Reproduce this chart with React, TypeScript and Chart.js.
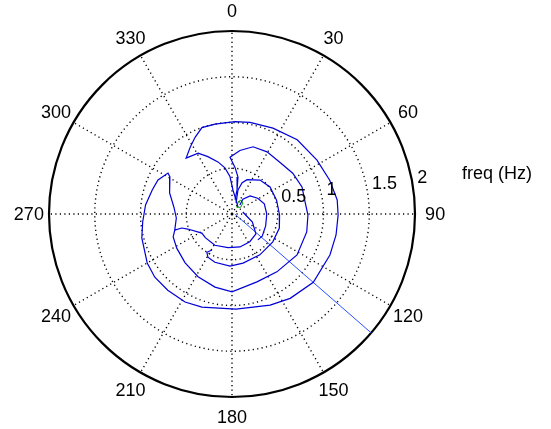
import React, { useEffect, useRef } from "react";
import { Chart, registerables } from "chart.js";

Chart.register(...registerables);

// Polar data: theta in degrees (0 at top, clockwise), r in Hz
const ringValues = [0.5, 1, 1.5, 2];
const ringLabels = ["0.5", "1", "1.5", "2"];
const angleTicks = [0, 30, 60, 90, 120, 150, 180, 210, 240, 270, 300, 330];
const radialTitle = "freq (Hz)";

const loop1Theta = [40.6, 16, 2.4, 356.9, 351.3, 344.9, 337.2, 330.9, 320.6, 327.9, 334.3, 340.8, 349.3, 1.9, 11.1, 25.5, 41.3, 57.6, 70.9, 82.4, 90.5, 101.4, 112.7, 130.0, 145.4, 157.3, 177.6, 197.9, 208.1, 220.1, 230.7, 240.0, 255.1, 264.9, 276.0, 286.7, 294.7, 302.6, 300.8, 288.7, 276.9, 265.9, 254.3, 254.4, 251.2, 237.7, 228.4, 208.7, 186.7, 166.4, 147.3, 129.8, 111.8, 79.7];
const loop1R = [0.10, 0.16, 0.26, 0.41, 0.51, 0.59, 0.68, 0.76, 0.79, 0.86, 0.93, 1.00, 1.00, 1.01, 1.02, 1.04, 1.08, 1.10, 1.13, 1.16, 1.16, 1.16, 1.16, 1.16, 1.12, 1.08, 1.04, 1.07, 1.09, 1.09, 1.09, 1.07, 1.02, 0.98, 0.95, 0.91, 0.89, 0.83, 0.79, 0.72, 0.64, 0.61, 0.65, 0.57, 0.51, 0.39, 0.39, 0.39, 0.37, 0.37, 0.36, 0.34, 0.24, 0.12];

const loop2Theta = [254.3, 248.7, 238.3, 223.8, 208.4, 193.1, 180, 159.8, 142.2, 122.2, 103.5, 90.8, 81.4, 68.9, 56.1, 42.7, 29.4, 17.4, 7.1, 358.0, 3.7, 9.2, 11.8, 12.1];
const loop2R = [0.65, 0.69, 0.71, 0.74, 0.78, 0.82, 0.85, 0.79, 0.80, 0.84, 0.84, 0.83, 0.81, 0.82, 0.80, 0.77, 0.78, 0.77, 0.70, 0.62, 0.51, 0.41, 0.27, 0.16];

const loop3Theta = [20.0, 14.0, 17.9, 23.8, 39.5, 54.6, 72.7, 91.2, 106.6, 124.3, 145.7, 167.3, 182.2, 199.5, 209.2, 213.3, 209.1];
const loop3R = [0.13, 0.27, 0.36, 0.41, 0.48, 0.51, 0.51, 0.52, 0.54, 0.54, 0.54, 0.55, 0.57, 0.56, 0.54, 0.50, 0.45];

const loop4Theta = [41.6, 36.3, 45, 58.4, 72.6, 90, 109.4, 126.3, 135];
const loop4R = [0.13, 0.20, 0.28, 0.33, 0.37, 0.38, 0.39, 0.41, 0.40];

const jumpTheta = [90, 130.5];
const jumpR = [0.03, 2.0];

const greenTheta = [35.5, 26.6, 32.7, 45, 52.1, 35.5];
const greenR = [0.09, 0.15, 0.18, 0.17, 0.12, 0.09];

const toXY = (th: number[], r: number[]) =>
  th.map((t, i) => {
    const a = (t * Math.PI) / 180;
    return { x: r[i] * Math.sin(a), y: r[i] * Math.cos(a) };
  });

const FONT = "18px 'Liberation Sans', Arial, sans-serif";

const polarGrid = {
  id: "polarGrid",
  beforeDatasetsDraw(chart: any) {
    const { ctx, scales } = chart;
    const xs = scales.x, ys = scales.y;
    const cx = xs.getPixelForValue(0);
    const cy = ys.getPixelForValue(0);
    const rMax = ringValues[ringValues.length - 1];
    const R = (v: number) => xs.getPixelForValue(v) - cx;
    ctx.save();
    ctx.strokeStyle = "#000";
    ctx.lineWidth = 1.4;
    ctx.setLineDash([1.2, 3.3]);
    for (let i = 0; i < ringValues.length - 1; i++) {
      ctx.beginPath();
      ctx.arc(cx, cy, R(ringValues[i]), 0, Math.PI * 2);
      ctx.stroke();
    }
    for (const t of angleTicks) {
      const a = (t * Math.PI) / 180;
      ctx.beginPath();
      ctx.moveTo(cx, cy);
      ctx.lineTo(cx + R(rMax) * Math.sin(a), cy - R(rMax) * Math.cos(a));
      ctx.stroke();
    }
    ctx.setLineDash([]);
    ctx.lineWidth = 2.2;
    ctx.strokeStyle = "#000";
    ctx.beginPath();
    ctx.arc(cx, cy, R(rMax), 0, Math.PI * 2);
    ctx.stroke();
    ctx.restore();
  },
  afterDatasetsDraw(chart: any) {
    const { ctx, scales } = chart;
    const xs = scales.x, ys = scales.y;
    const cx = xs.getPixelForValue(0);
    const cy = ys.getPixelForValue(0);
    const rMax = ringValues[ringValues.length - 1];
    const R = (v: number) => xs.getPixelForValue(v) - cx;
    ctx.save();
    ctx.fillStyle = "#000";
    ctx.font = FONT;
    ctx.textAlign = "center";
    ctx.textBaseline = "middle";
    for (const t of angleTicks) {
      const a = (t * Math.PI) / 180;
      const rr = R(rMax) * 1.11;
      ctx.fillText(String(t), cx + rr * Math.sin(a), cy - rr * Math.cos(a) + 1);
    }
    ctx.textAlign = "left";
    const la = (8 * Math.PI) / 180;
    ringValues.forEach((v, i) => {
      const rr = R(v);
      ctx.fillText(ringLabels[i], cx + rr * Math.cos(la) + 4, cy - rr * Math.sin(la) - 11);
    });
    ctx.fillText(radialTitle, cx + R(rMax) + 47, cy - 40);
    ctx.restore();
  },
};

export default function App() {
  const ref = useRef<HTMLCanvasElement | null>(null);
  useEffect(() => {
    if (!ref.current) return;
    const mk = (th: number[], r: number[], color: string, w: number) => ({
      data: toXY(th, r),
      showLine: true,
      borderColor: color,
      backgroundColor: color,
      borderWidth: w,
      pointRadius: 0,
      tension: 0,
    });
    const chart = new Chart(ref.current, {
      type: "scatter",
      data: {
        datasets: [
          mk(loop1Theta, loop1R, "#0000d8", 1.2),
          mk(loop2Theta, loop2R, "#0000d8", 1.2),
          mk(loop3Theta, loop3R, "#0000d8", 1.2),
          mk(loop4Theta, loop4R, "#0000d8", 1.2),
          mk(jumpTheta, jumpR, "#2a50ff", 1),
          mk(greenTheta, greenR, "#00a000", 1),
        ],
      },
      options: {
        animation: false,
        responsive: false,
        maintainAspectRatio: false,
        layout: { padding: { left: 49, right: 136, top: 31, bottom: 32 } },
        plugins: { legend: { display: false }, tooltip: { enabled: false } },
        scales: {
          x: { type: "linear", min: -2, max: 2, display: false },
          y: { type: "linear", min: -2, max: 2, display: false },
        },
      },
      plugins: [polarGrid],
    });
    return () => chart.destroy();
  }, []);
  return (
    <div style={{ position: "fixed", left: 0, top: 0, width: 551, height: 429, background: "#fff" }}>
      <canvas ref={ref} width={551} height={429} style={{ width: 551, height: 429, display: "block" }} />
    </div>
  );
}
